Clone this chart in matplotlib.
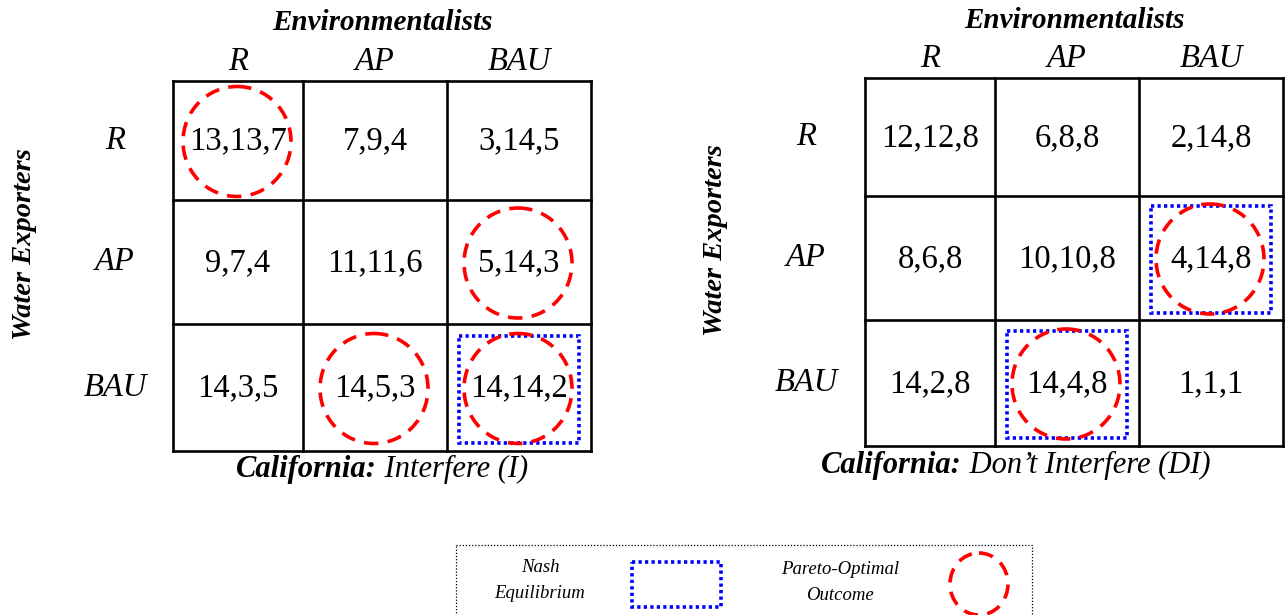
import matplotlib.pyplot as plt
from matplotlib.patches import Ellipse, Rectangle

plt.rcParams['font.family'] = ['Liberation Serif', 'DejaVu Serif']

strategies = ['R', 'AP', 'BAU']
player_cols = 'Environmentalists'
player_rows = 'Water Exporters'

# payoffs (exporters, environmentalists, california)
payoffs_I = [[(13, 13, 7), (7, 9, 4), (3, 14, 5)],
             [(9, 7, 4), (11, 11, 6), (5, 14, 3)],
             [(14, 3, 5), (14, 5, 3), (14, 14, 2)]]
payoffs_DI = [[(12, 12, 8), (6, 8, 8), (2, 14, 8)],
              [(8, 6, 8), (10, 10, 8), (4, 14, 8)],
              [(14, 2, 8), (14, 4, 8), (1, 1, 1)]]
pareto_I = [(0, 0), (1, 2), (2, 1), (2, 2)]
nash_I = [(2, 2)]
pareto_DI = [(1, 2), (2, 1)]
nash_DI = [(1, 2), (2, 1)]
cal_bold = 'California:'
cal_I = ' Interfere (I)'
cal_DI = ' Don\u2019t Interfere (DI)'

fig = plt.figure(figsize=(12.85, 6.15), dpi=100)
ax = fig.add_axes([0, 0, 1, 1])
ax.set_xlim(0, 1285)
ax.set_ylim(615, 0)
ax.axis('off')

RED = '#ff0000'
BLUE = '#0000ff'
DASH = (0, (4, 2.6))
DOTS = (0, (0.9, 0.9))


def two_part(x, y, bold, rest, size):
    r = fig.canvas.get_renderer()
    t1 = ax.text(0, y, bold, fontsize=size, style='italic', weight='bold', va='center')
    t2 = ax.text(0, y, rest, fontsize=size, style='italic', va='center')
    w1 = t1.get_window_extent(r).width
    w2 = t2.get_window_extent(r).width
    x0 = x - (w1 + w2) / 2
    t1.set_x(x0)
    t2.set_x(x0 + w1)


def game(xs, ys, pay, pareto, nash, cal, lab_x, wx, title_y, cal_y):
    for x in xs:
        ax.plot([x, x], [ys[0], ys[-1]], color='black', lw=1.9, solid_capstyle='projecting')
    for y in ys:
        ax.plot([xs[0], xs[-1]], [y, y], color='black', lw=1.9, solid_capstyle='projecting')
    cx = [(xs[i] + xs[i + 1]) / 2 for i in range(3)]
    cy = [(ys[i] + ys[i + 1]) / 2 for i in range(3)]
    for i in range(3):
        for j in range(3):
            ax.text(cx[j], cy[i] + 1, ','.join(str(v) for v in pay[i][j]),
                    fontsize=23.5, ha='center', va='center')
        ax.text(cx[i], ys[0] - 19, strategies[i], fontsize=23.5, style='italic',
                ha='center', va='center')
        ax.text(lab_x, cy[i], strategies[i], fontsize=23.5, style='italic',
                ha='center', va='center')
    for (i, j) in nash:
        ax.add_patch(Rectangle((cx[j] - 60, cy[i] - 52), 120, 107, fill=False,
                               ec=BLUE, lw=2.6, ls=DOTS))
    for (i, j) in pareto:
        ax.add_patch(Ellipse((cx[j] - 1, cy[i] + 1), 108, 110, fill=False,
                             ec=RED, lw=2.6, ls=DASH))
    ax.text((xs[0] + xs[-1]) / 2, title_y, player_cols, fontsize=21,
            style='italic', weight='bold', ha='center', va='center')
    ax.text(wx, (ys[0] + ys[-1]) / 2 - 22, player_rows, fontsize=20.5, style='italic',
            weight='bold', ha='center', va='center', rotation=90)
    two_part(cal[0], cal_y, cal_bold, cal[1], 22)


game([173, 303, 447, 591], [81, 200, 324, 451], payoffs_I, pareto_I, nash_I,
     (382, cal_I), 115, 25, 22, 469)
game([865, 995, 1139, 1283], [78, 196, 320, 446], payoffs_DI, pareto_DI, nash_DI,
     (1016, cal_DI), 806, 715, 20, 465)

# legend
ax.add_patch(Rectangle((456, 545), 576, 80, fill=False, ec='black', lw=0.9,
                       ls=(0, (1, 1.5))))
ax.text(540, 567, 'Nash', fontsize=13.5, style='italic', ha='center', va='center')
ax.text(540, 594, 'Equilibrium', fontsize=13.5, style='italic', ha='center', va='center')
ax.add_patch(Rectangle((632, 562), 89, 45, fill=False, ec=BLUE, lw=2.6, ls=DOTS))
ax.text(840, 569, 'Pareto-Optimal', fontsize=13.5, style='italic', ha='center', va='center')
ax.text(840, 596, 'Outcome', fontsize=13.5, style='italic', ha='center', va='center')
ax.add_patch(Ellipse((979, 584), 58, 62, fill=False, ec=RED, lw=2.6, ls=DASH))

fig.savefig('out.png', dpi=100)
